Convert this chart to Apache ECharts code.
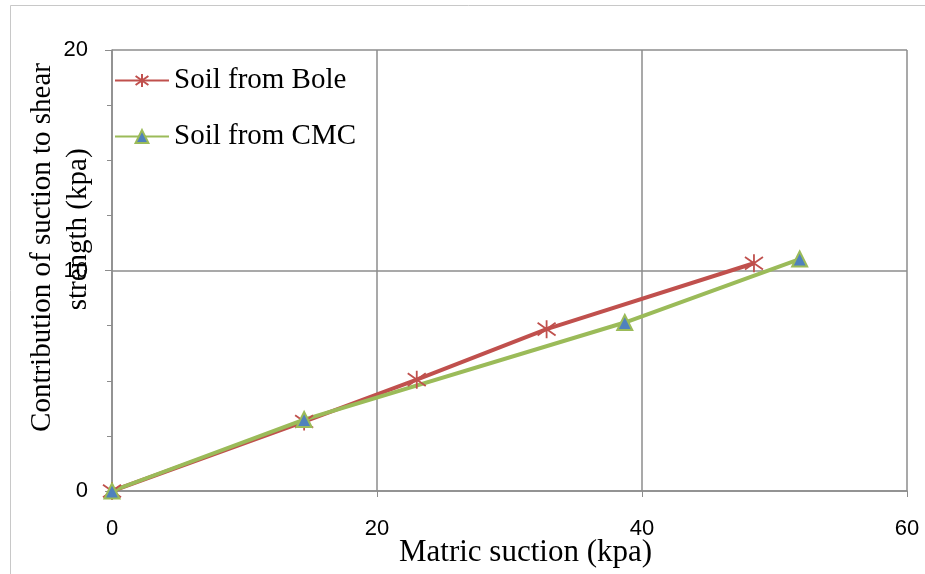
<!DOCTYPE html>
<html>
<head>
<meta charset="utf-8">
<script src="https://cdn.jsdelivr.net/npm/echarts@6/dist/echarts.min.js"></script>
<style>html,body{margin:0;padding:0;background:#fff;}#c{width:925px;height:574px;}</style>
</head>
<body>
<div id="c"></div>
<script>
const seriesNames = ['Soil from Bole', 'Soil from CMC'];
const boleX = [0, 14.5, 23.0, 32.8, 48.45];
const boleY = [0, 3.15, 5.05, 7.34, 10.33];
const cmcX = [0, 14.5, 38.7, 51.9];
const cmcY = [0, 3.24, 7.64, 10.52];
const xTicks = [0, 20, 40, 60];
const yTicks = [0, 10, 20];
const xTitle = 'Matric suction (kpa)';
const yTitle = 'Contribution of suction to shear\n\u00a0\u00a0\u00a0\u00a0\u00a0strength (kpa)';

const toPairs = (xs, ys) => xs.map((x, i) => [x, ys[i]]);
const serif = '"Liberation Serif", "DejaVu Serif", serif';
const sans = '"Liberation Sans Narrow", "Liberation Sans", sans-serif';
const grey = '#8c8c8c';

const chart = echarts.init(document.getElementById('c'), null, {renderer: 'canvas'});
chart.setOption({
  animation: false,
  backgroundColor: '#fff',
  graphic: [{
    type: 'rect', shape: {x: 10.5, y: 5.5, width: 1000, height: 1000},
    style: {fill: 'none', stroke: '#c8c8c8', lineWidth: 1}, silent: true, z: -1
  }],
  grid: {left: 112, top: 50, right: 18, bottom: 83, containLabel: false, outerBoundsMode: 'none'},
  legend: {
    orient: 'vertical', left: 114, top: 66, padding: 0, itemWidth: 54, itemHeight: 16, itemGap: 27,
    textStyle: {fontFamily: serif, fontSize: 29, color: '#000'},
    data: seriesNames
  },
  xAxis: {
    type: 'value', min: xTicks[0], max: xTicks[xTicks.length - 1], interval: 20,
    axisLine: {lineStyle: {color: grey, width: 1.5}},
    axisTick: {show: true, inside: false, length: 6, lineStyle: {color: grey}},
    axisLabel: {fontFamily: sans, fontSize: 22, color: '#000', margin: 27},
    splitLine: {show: true, lineStyle: {color: grey, width: 1.5}},
    name: xTitle, nameLocation: 'middle', nameGap: 46, nameMoveOverlap: false,
    nameTextStyle: {fontFamily: serif, fontSize: 31, color: '#000', padding: [0, 0, 0, 32]}
  },
  yAxis: {
    type: 'value', min: yTicks[0], max: yTicks[yTicks.length - 1], interval: 10,
    axisLine: {show: true, lineStyle: {color: grey, width: 1.5}},
    axisTick: {show: true, inside: false, length: 7, lineStyle: {color: grey}},
    minorTick: {show: true, splitNumber: 4, length: 5, lineStyle: {color: grey}},
    axisLabel: {fontFamily: sans, fontSize: 22, color: '#000', margin: 24},
    splitLine: {show: true, lineStyle: {color: grey, width: 1.5}},
    name: yTitle, nameLocation: 'middle', nameGap: 16, nameRotate: 90, nameMoveOverlap: false,
    nameTextStyle: {fontFamily: serif, fontSize: 29, color: '#000', lineHeight: 36, padding: [0, 0, 0, 46]}
  },
  series: [
    {
      name: seriesNames[0], type: 'line', data: toPairs(boleX, boleY),
      symbol: 'path://M5,0L5,10M1.5,1.5L8.5,8.5M8.5,1.5L1.5,8.5',
      symbolSize: 18, showSymbol: true,
      lineStyle: {color: '#C0504D', width: 4},
      itemStyle: {color: 'rgba(0,0,0,0)', borderColor: '#C0504D', borderWidth: 1.8}
    },
    {
      name: seriesNames[1], type: 'line', data: toPairs(cmcX, cmcY),
      symbol: 'triangle', symbolSize: 15,
      lineStyle: {color: '#9BBB59', width: 4},
      itemStyle: {color: '#4F81BD', borderColor: '#9BBB59', borderWidth: 2}
    }
  ]
});
</script>
</body>
</html>
